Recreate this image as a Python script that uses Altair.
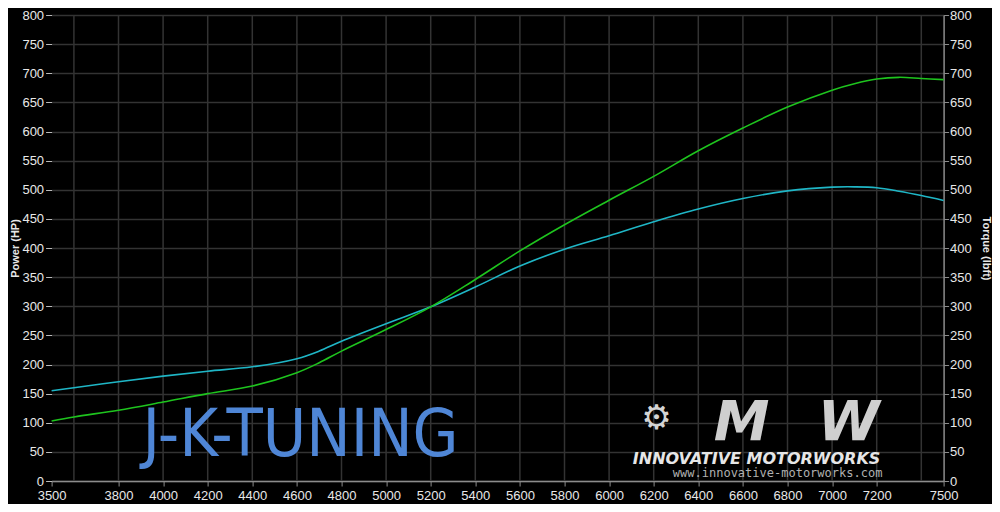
import altair as alt
import pandas as pd

# ---------------- data ----------------
rpm = [3500, 3600, 3800, 4000, 4200, 4400, 4600, 4700, 4800, 5000, 5200, 5400,
       5600, 5800, 6000, 6200, 6400, 6600, 6800, 7000, 7100, 7200, 7300, 7400, 7500]
power_hp = [103, 110, 121.5, 135.5, 150, 163, 186, 203, 223, 260, 299, 346,
            395, 440, 482, 523, 567, 606, 642, 671, 682, 690, 693, 691, 689]
torque_lbft = [155, 160, 170.5, 180, 188.5, 196, 210, 223, 240, 270, 299, 333,
               369, 398, 421, 445, 467, 485, 498, 504.5, 505, 503.5, 497.5, 490, 481.5]

x_label_values = [3500, 3800, 4000, 4200, 4400, 4600, 4800, 5000, 5200, 5400, 5600,
                  5800, 6000, 6200, 6400, 6600, 6800, 7000, 7200, 7500]
x_grid_values = [3600, 3800, 4000, 4200, 4400, 4600, 4800, 5000, 5200, 5400, 5600,
                 5800, 6000, 6200, 6400, 6600, 6800, 7000, 7200, 7400]
y_values = list(range(0, 801, 50))

df = pd.DataFrame({"rpm": rpm, "power": power_hp, "torque": torque_lbft})
grid_df = pd.DataFrame({"rpm": x_grid_values})

TOP = 7
W, H = 892, 466
FONT = "Liberation Sans"
LABEL = "#e8e8e8"
GRID = "#333333"
AXIS = "#8c8c8c"

x_enc = alt.X(
    "rpm:Q",
    scale=alt.Scale(domain=[3500, 7500], nice=False, zero=False),
    axis=alt.Axis(values=x_label_values, grid=False, title=None, format="d",
                  labelColor=LABEL, labelFont=FONT, labelFontSize=13,
                  labelPadding=3, labelFlush=False, labelOverlap=False,
                  domainColor=AXIS, domainWidth=1.5, tickColor=AXIS, tickSize=5),
)

vgrid = alt.Chart(grid_df).mark_rule(color=GRID, strokeWidth=1.5).encode(x=x_enc)

torque_line = alt.Chart(df).mark_line(color="#1fb6c6", strokeWidth=1.6, interpolate="catmull-rom").encode(
    x=x_enc,
    y=alt.Y("torque:Q", scale=alt.Scale(domain=[0, 800], nice=False),
            axis=alt.Axis(orient="right", values=y_values, grid=False,
                          title="Torque (lbft)", titleColor=LABEL, titleFont=FONT,
                          titleFontSize=11, titleFontWeight="bold",
                          titleX=42, titleY=H / 2, titleAlign="center", titleBaseline="middle",
                          labelColor=LABEL, labelFont=FONT, labelFontSize=13, labelPadding=1,
                          domain=True, domainColor=AXIS, domainWidth=1.5,
                          tickColor=AXIS, tickSize=5)),
)

power_line = alt.Chart(df).mark_line(color="#1ec41e", strokeWidth=1.6, interpolate="catmull-rom").encode(
    x=x_enc,
    y=alt.Y("power:Q", scale=alt.Scale(domain=[0, 800], nice=False),
            axis=alt.Axis(orient="left", values=y_values, grid=True, gridColor=GRID,
                          gridWidth=1.5,
                          title="Power (HP)", titleColor=LABEL, titleFont=FONT,
                          titleFontSize=11, titleFontWeight="bold",
                          titleX=-36, titleY=H / 2, titleAlign="center", titleBaseline="middle",
                          labelColor=LABEL, labelFont=FONT, labelFontSize=13, labelPadding=2,
                          domain=False, tickColor="#bbbbbb", tickSize=6)),
)

# ---------------- logos as text ----------------
jk = alt.Chart(pd.DataFrame({"t": ["J-K-TUNING"]})).mark_text(
    font="DejaVu Sans Condensed", fontSize=66, color="#4f86d6",
    align="center", baseline="middle").encode(
    text="t:N", x=alt.value(249), y=alt.value(421))

mw_big = alt.Chart(pd.DataFrame({"t": ["M", "W"], "px": [690, 797]})).mark_text(
    font="DejaVu Sans", fontSize=56, fontWeight="bold", fontStyle="italic",
    color="#cfcfcf", align="center", baseline="middle").encode(
    text="t:N", x=alt.X("px:Q", scale=None), y=alt.value(408))

gear = alt.Chart(pd.DataFrame({"t": ["\u2699"]})).mark_text(
    font="DejaVu Sans", fontSize=34, color="#d4d4d4",
    align="center", baseline="middle").encode(
    text="t:N", x=alt.value(605), y=alt.value(404))

mw_name = alt.Chart(pd.DataFrame({"t": ["INNOVATIVE MOTORWORKS"]})).mark_text(
    font="DejaVu Sans", fontSize=16, fontWeight="bold", fontStyle="italic",
    color="#e6e6e6", align="center", baseline="middle").encode(
    text="t:N", x=alt.value(705), y=alt.value(444))

mw_url = alt.Chart(pd.DataFrame({"t": ["www.innovative-motorworks.com"]})).mark_text(
    font="DejaVu Sans Mono", fontSize=12, color="#b0b0b0",
    align="center", baseline="middle").encode(
    text="t:N", x=alt.value(726), y=alt.value(458))

chart = alt.layer(
    vgrid, jk, gear, mw_big, mw_name, mw_url, torque_line, power_line
).resolve_scale(y="independent").properties(
    width=W, height=H,
    background="#000000",
    padding={"left": 43.6, "top": TOP, "right": 984 - 43.6 - W, "bottom": 496 - TOP - H},
    autosize=alt.AutoSizeParams(type="none"),
).configure_view(stroke=None)

chart.save("out.html", embed_options={"renderer": "svg", "actions": False})
